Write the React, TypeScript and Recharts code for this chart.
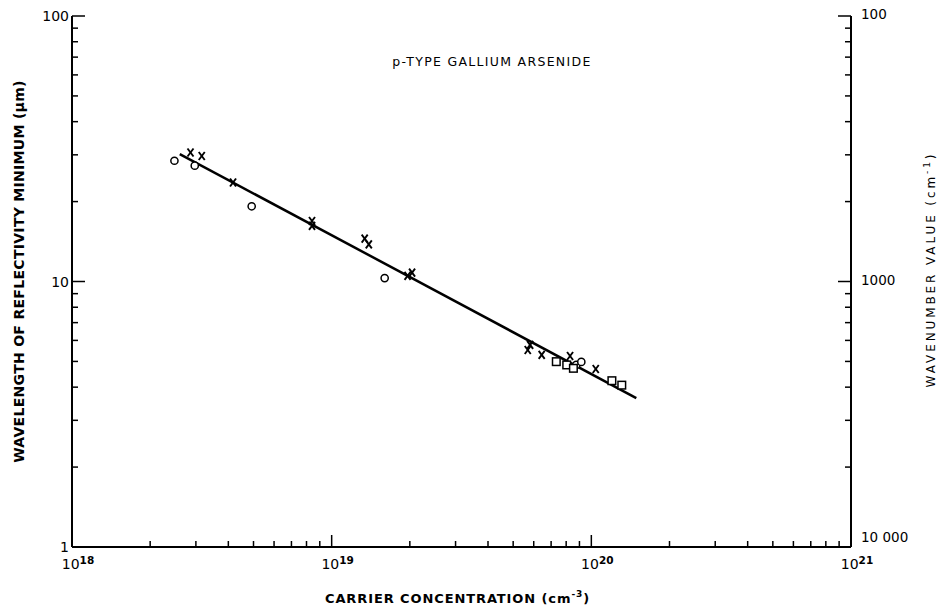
import React from 'react';
import { ScatterChart, Scatter, XAxis, YAxis, Label } from 'recharts';

// carrier concentration (cm^-3) vs wavelength of the reflectivity minimum (um)
const circleN = [2.48e18, 2.97e18, 4.92e18, 1.6e19, 8.75e19, 9.15e19];
const circleLambda = [28.5, 27.3, 19.2, 10.3, 4.85, 4.98];

const crossN = [2.86e18, 3.16e18, 4.17e18, 8.4e18, 8.4e18, 1.34e19, 1.39e19, 1.96e19, 2.04e19, 5.69e19, 5.81e19, 6.44e19, 8.28e19, 1.04e20];
const crossLambda = [30.6, 29.7, 23.6, 16.9, 16.2, 14.5, 13.8, 10.5, 10.8, 5.52, 5.77, 5.29, 5.24, 4.68];

const squareN = [7.33e19, 8.04e19, 8.53e19, 1.2e20, 1.31e20];
const squareLambda = [4.99, 4.85, 4.71, 4.23, 4.07];

// fitted straight line
const fitN = [2.6e18, 1.49e20];
const fitLambda = [30.2, 3.64];

const xTicks = [
  1e18, 2e18, 3e18, 4e18, 5e18, 6e18, 7e18, 8e18, 9e18,
  1e19, 2e19, 3e19, 4e19, 5e19, 6e19, 7e19, 8e19, 9e19,
  1e20, 2e20, 3e20, 4e20, 5e20, 6e20, 7e20, 8e20, 9e20,
  1e21,
];
const yTicks = [1, 2, 3, 4, 5, 6, 7, 8, 9, 10, 20, 30, 40, 50, 60, 70, 80, 90, 100];

const title = 'p-TYPE GALLIUM ARSENIDE';
const xTitle = 'CARRIER CONCENTRATION (cm';
const yTitle = 'WAVELENGTH OF REFLECTIVITY MINIMUM (\u03bcm)';
const y2Title = 'WAVENUMBER VALUE (cm';

const zip = (n: number[], l: number[]) => n.map((v, i) => ({ n: v, lambda: l[i] }));
const circles = zip(circleN, circleLambda);
const crosses = zip(crossN, crossLambda);
const squares = zip(squareN, squareLambda);
const fit = zip(fitN, fitLambda);

const FONT = '"DejaVu Sans", sans-serif';
const isMajor = (v: number) => Math.abs(Math.log10(v) - Math.round(Math.log10(v))) < 1e-6;

const BottomTick = (props: any) => {
  const { x, y, payload } = props;
  const major = isMajor(payload.value);
  return (
    <g>
      <line x1={x} x2={x} y1={y} y2={y - (major ? 12 : 6)} stroke="#000" strokeWidth={1.5} />
      {major && (
        <text x={x + 6} y={y + 22} textAnchor="middle" fontFamily={FONT} fontSize={14} fill="#000">
          <tspan>10</tspan>
          <tspan dy={-5} fontSize={10.5} fontWeight="bold">{Math.round(Math.log10(payload.value))}</tspan>
        </text>
      )}
    </g>
  );
};

const TopTick = (props: any) => {
  const { x, y, payload } = props;
  const major = isMajor(payload.value);
  return <line x1={x} x2={x} y1={y} y2={y + (major ? 10 : 6)} stroke="#000" strokeWidth={1.5} />;
};

const LeftTick = (props: any) => {
  const { x, y, payload } = props;
  const major = isMajor(payload.value);
  return (
    <g>
      <line x1={x} x2={x + (major ? 13 : 6)} y1={y} y2={y} stroke="#000" strokeWidth={1.5} />
      {major && (
        <text x={x - 3} y={y + 5} textAnchor="end" fontFamily={FONT} fontSize={14} fill="#000">
          {payload.value}
        </text>
      )}
    </g>
  );
};

const RightTick = (props: any) => {
  const { x, y, payload } = props;
  const major = isMajor(payload.value);
  const wn = Math.round(10000 / payload.value);
  const label = wn === 10000 ? '10 000' : String(wn);
  return (
    <g>
      <line x1={x} x2={x - (major ? 13 : 6)} y1={y} y2={y} stroke="#000" strokeWidth={1.5} />
      {major && (
        <text x={x + 10} y={wn === 10000 ? y - 5 : y + 3} textAnchor="start" fontFamily={FONT} fontSize={13.5} fill="#000">
          {label}
        </text>
      )}
    </g>
  );
};

const CircleDot = (p: any) => <circle cx={p.cx} cy={p.cy} r={3.6} fill="#fff" stroke="#000" strokeWidth={1.5} />;
const SquareDot = (p: any) => <rect x={p.cx - 3.8} y={p.cy - 3.8} width={7.6} height={7.6} fill="#fff" stroke="#000" strokeWidth={1.5} />;
const CrossDot = (p: any) => (
  <g stroke="#000" strokeWidth={1.9}>
    <line x1={p.cx - 3} y1={p.cy - 4} x2={p.cx + 3} y2={p.cy + 4} />
    <line x1={p.cx + 3} y1={p.cy - 4} x2={p.cx - 3} y2={p.cy + 4} />
  </g>
);
const NoDot = () => <g />;

export default function App() {
  return (
    <div style={{ position: 'absolute', left: 0, top: 0, background: '#fff' }}>
      <ScatterChart width={941} height={609} margin={{ top: 16, right: 0, bottom: 0, left: 0 }}>
        <XAxis
          xAxisId="b"
          type="number"
          dataKey="n"
          scale="log"
          domain={[1e18, 1e21]}
          allowDataOverflow
          ticks={xTicks}
          interval={0}
          height={62}
          tickSize={0}
          tickMargin={0}
          tickLine={false}
          axisLine={{ stroke: '#000', strokeWidth: 2 }}
          tick={(p: any) => <BottomTick {...p} />}
        >
          <Label
            content={(props: any) => {
              const vb = props.viewBox;
              return (
                <text x={vb.x + vb.width / 2 - 4} y={vb.y + 56} textAnchor="middle" fontFamily={FONT} fontSize={13} fontWeight="bold" letterSpacing={0.9} fill="#000">
                  {xTitle}
                  <tspan dy={-6} fontSize={9}>-3</tspan>
                  <tspan dy={6}>)</tspan>
                </text>
              );
            }}
          />
        </XAxis>
        <XAxis
          xAxisId="t"
          orientation="top"
          type="number"
          dataKey="n"
          scale="log"
          domain={[1e18, 1e21]}
          allowDataOverflow
          ticks={xTicks}
          interval={0}
          height={0}
          tickSize={0}
          tickMargin={0}
          tickLine={false}
          axisLine={{ stroke: '#000', strokeWidth: 2 }}
          tick={(p: any) => <TopTick {...p} />}
        />
        <YAxis
          yAxisId="l"
          type="number"
          dataKey="lambda"
          scale="log"
          domain={[1, 100]}
          allowDataOverflow
          ticks={yTicks}
          interval={0}
          width={72}
          tickSize={0}
          tickMargin={0}
          tickLine={false}
          axisLine={{ stroke: '#000', strokeWidth: 2 }}
          tick={(p: any) => <LeftTick {...p} />}
        >
          <Label
            content={(props: any) => {
              const vb = props.viewBox;
              const cx = vb.x + 24;
              const cy = vb.y + vb.height / 2 - 10;
              return (
                <g>
                  <text x={cx} y={cy} transform={`rotate(-90 ${cx} ${cy})`} textAnchor="middle" fontFamily={FONT} fontSize={14} fontWeight="bold" letterSpacing={0.3} fill="#000">
                    {yTitle}
                  </text>
                  <text x={vb.x + 492} y={vb.y + 50} textAnchor="middle" fontFamily={FONT} fontSize={12.5} letterSpacing={1.3} fill="#000">
                    {title}
                  </text>
                </g>
              );
            }}
          />
        </YAxis>
        <YAxis
          yAxisId="r"
          orientation="right"
          type="number"
          dataKey="lambda"
          scale="log"
          domain={[1, 100]}
          allowDataOverflow
          ticks={yTicks}
          interval={0}
          width={90}
          tickSize={0}
          tickMargin={0}
          tickLine={false}
          axisLine={{ stroke: '#000', strokeWidth: 2 }}
          tick={(p: any) => <RightTick {...p} />}
        >
          <Label
            content={(props: any) => {
              const vb = props.viewBox;
              const cx = vb.x + 84;
              const cy = vb.y + vb.height / 2 - 12;
              return (
                <text x={cx} y={cy} transform={`rotate(-90 ${cx} ${cy})`} textAnchor="middle" fontFamily={FONT} fontSize={12} letterSpacing={2.9} fill="#000">
                  {y2Title}
                  <tspan dy={-5} fontSize={9}>-1</tspan>
                  <tspan dy={5}>)</tspan>
                </text>
              );
            }}
          />
        </YAxis>
        <Scatter xAxisId="b" yAxisId="l" data={fit} line={{ stroke: '#000', strokeWidth: 2.5 }} shape={NoDot} isAnimationActive={false} />
        <Scatter xAxisId="b" yAxisId="l" data={circles} shape={CircleDot} isAnimationActive={false} />
        <Scatter xAxisId="b" yAxisId="l" data={crosses} shape={CrossDot} isAnimationActive={false} />
        <Scatter xAxisId="b" yAxisId="l" data={squares} shape={SquareDot} isAnimationActive={false} />
        <Scatter xAxisId="t" yAxisId="r" data={fit} shape={NoDot} isAnimationActive={false} />
      </ScatterChart>
    </div>
  );
}
